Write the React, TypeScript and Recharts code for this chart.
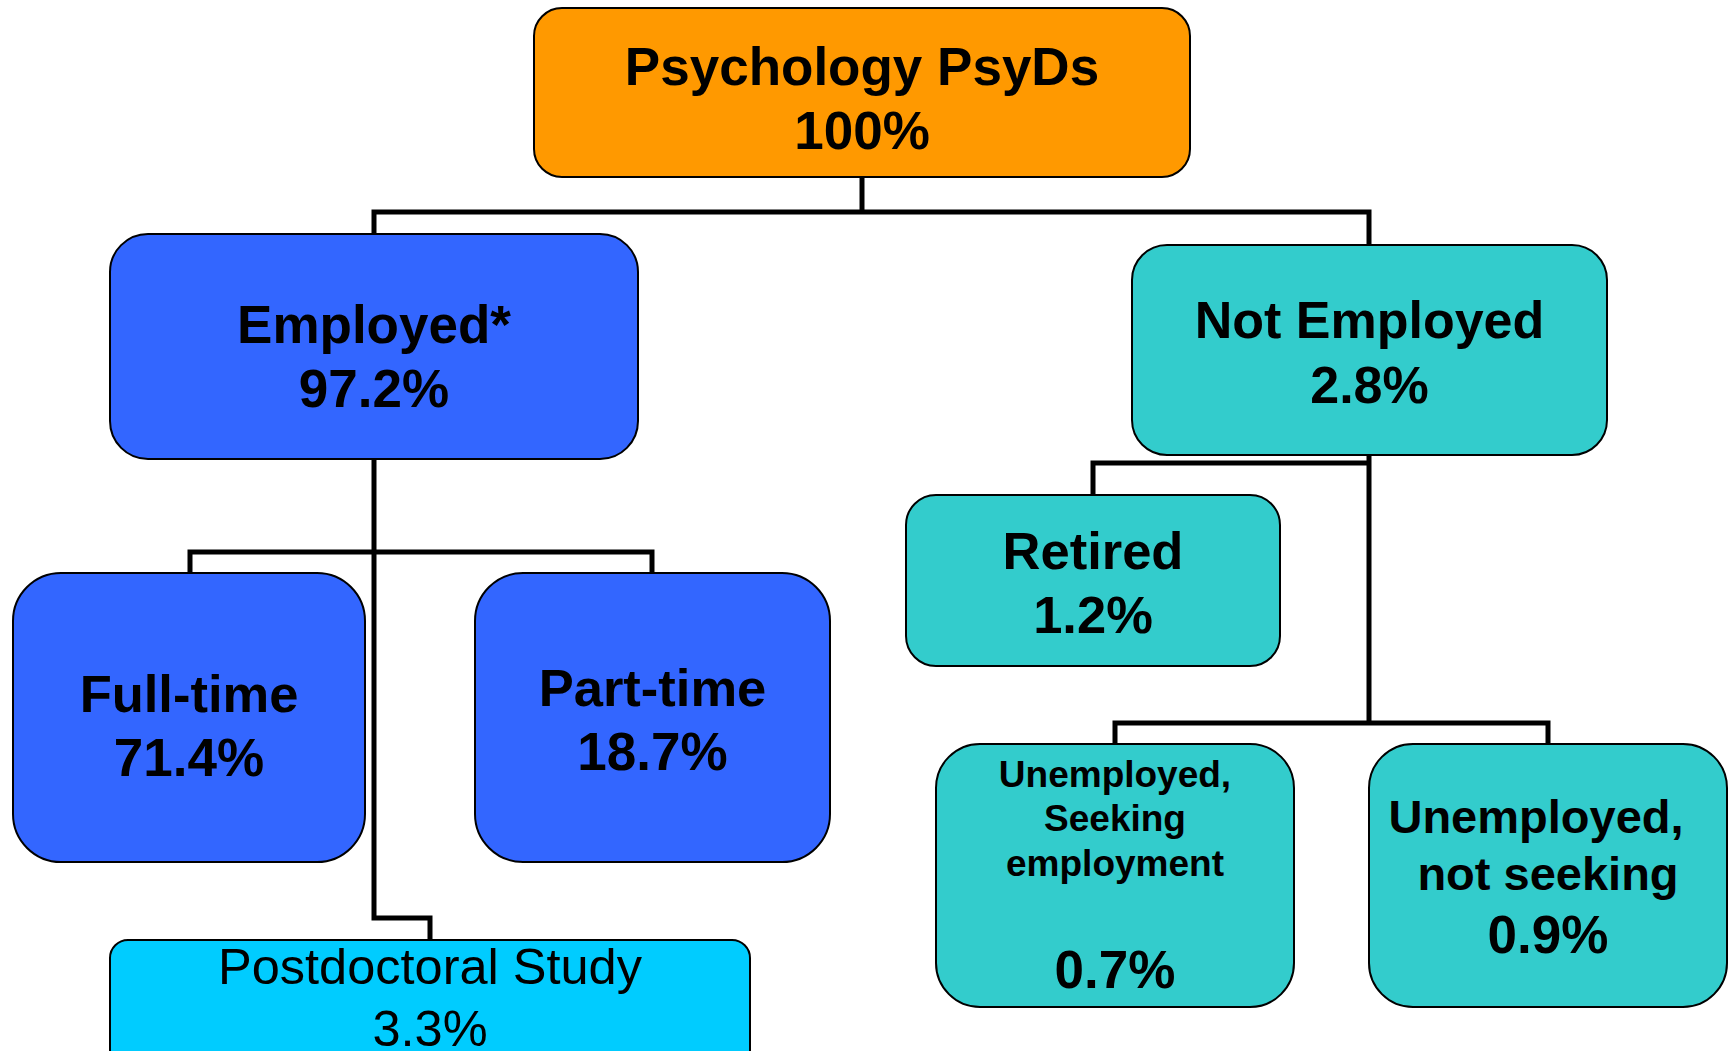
import { Scatter, ScatterChart, XAxis, YAxis } from "recharts";

// node text
const nodeLabels = [
  ["Psychology PsyDs"],
  ["Employed*"],
  ["Not Employed"],
  ["Full-time"],
  ["Part-time"],
  ["Postdoctoral Study"],
  ["Retired"],
  ["Unemployed,", "Seeking", "employment"],
  ["Unemployed,", "not seeking"],
];
const nodeShares = [100, 97.2, 2.8, 71.4, 18.7, 3.3, 1.2, 0.7, 0.9];

// layout (pixels): box corners, corner radius, fill
const nodeBoxes = [
  [534, 8, 1190, 177],
  [110, 234, 638, 459],
  [1132, 245, 1607, 455],
  [13, 573, 365, 862],
  [475, 573, 830, 862],
  [110, 940, 750, 1090],
  [906, 495, 1280, 666],
  [936, 744, 1294, 1007],
  [1369, 744, 1727, 1007],
];
const nodeRadius = [28, 38, 35, 48, 48, 18, 30, 44, 44];
const nodeFills = ["#FF9900", "#3366FF", "#33CCCC", "#3366FF", "#3366FF", "#00CCFF", "#33CCCC", "#33CCCC", "#33CCCC"];
const nodeBold = [true, true, true, true, true, false, true, true, true];
// baselines per line (labels then share), font sizes per line, horizontal nudges
const nodeBaselines = [
  [85, 149],
  [343, 407],
  [338, 403],
  [712, 776],
  [706, 770],
  [984, 1046],
  [569, 633],
  [787, 831, 876, 988],
  [833, 890, 953],
];
const nodeFontSizes = [
  [53, 53],
  [53, 53],
  [52, 52],
  [52.5, 53],
  [52.5, 53],
  [50.5, 50.5],
  [52.5, 52.5],
  [37, 37, 37, 53],
  [47, 47, 53],
];
const nodeShifts = [
  [0, 0],
  [0, 0],
  [0, 0],
  [0, 0],
  [0, 0],
  [0, 0],
  [0, 0],
  [0, 0, 0, 0],
  [-12, 0, 0],
];

const connectors = [
  [[862, 177], [862, 212]],
  [[374, 234], [374, 212], [1369, 212], [1369, 245]],
  [[374, 459], [374, 918], [430, 918], [430, 940]],
  [[190, 573], [190, 552], [652, 552], [652, 573]],
  [[1369, 455], [1369, 723]],
  [[1093, 495], [1093, 463], [1369, 463]],
  [[1115, 744], [1115, 723], [1548, 723], [1548, 744]],
];

const W = 1731;
const H = 1051;

const nodes = nodeLabels.map((label, i) => {
  const [x0, y0, x1, y1] = nodeBoxes[i];
  return {
    x: (x0 + x1) / 2,
    y: (y0 + y1) / 2,
    w: x1 - x0,
    h: y1 - y0,
    r: nodeRadius[i],
    fill: nodeFills[i],
    bold: nodeBold[i],
    lines: [...label, `${nodeShares[i]}%`],
    baselines: nodeBaselines[i],
    sizes: nodeFontSizes[i],
    shifts: nodeShifts[i],
  };
});

function NodeBox(props: any) {
  const { cx, cy, payload } = props;
  const p = payload;
  return (
    <g>
      <rect
        x={cx - p.w / 2}
        y={cy - p.h / 2}
        width={p.w}
        height={p.h}
        rx={p.r}
        ry={p.r}
        fill={p.fill}
        stroke="#000"
        strokeWidth={2}
      />
      {p.lines.map((t: string, j: number) => (
        <text
          key={j}
          x={cx + p.shifts[j]}
          y={cy + (p.baselines[j] - p.y)}
          textAnchor="middle"
          fontFamily="'Liberation Sans', Arial, sans-serif"
          fontWeight={p.bold ? "bold" : "normal"}
          fontSize={p.sizes[j]}
          fill="#000"
        >
          {t}
        </text>
      ))}
    </g>
  );
}

const Empty = () => <g />;

export default function App() {
  return (
    <div style={{ position: "absolute", left: 0, top: 0, width: W, height: H, background: "#fff" }}>
      <ScatterChart width={W} height={H} margin={{ top: 0, right: 0, bottom: 0, left: 0 }}>
        <XAxis type="number" dataKey="x" domain={[0, W]} hide allowDataOverflow />
        <YAxis type="number" dataKey="y" domain={[0, H]} reversed hide allowDataOverflow />
        {connectors.map((pts, i) => (
          <Scatter
            key={`c${i}`}
            data={pts.map(([x, y]) => ({ x, y }))}
            line={{ stroke: "#000", strokeWidth: 5 }}
            lineType="joint"
            shape={Empty}
            isAnimationActive={false}
          />
        ))}
        <Scatter data={nodes} shape={NodeBox} isAnimationActive={false} />
      </ScatterChart>
    </div>
  );
}
